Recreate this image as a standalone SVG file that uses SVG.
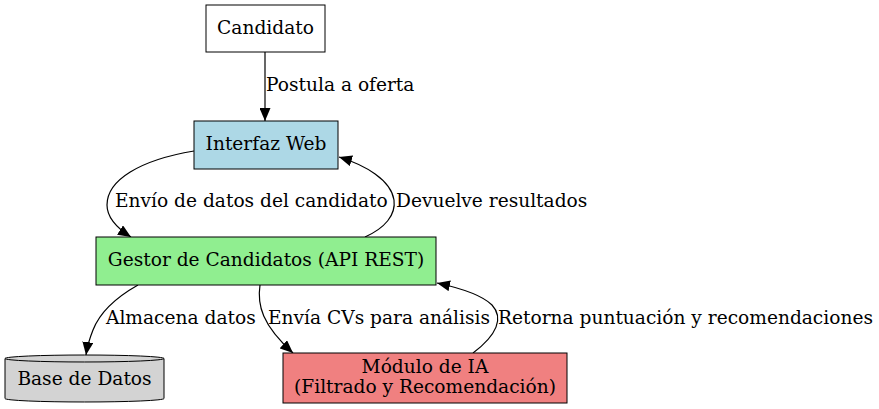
<svg xmlns="http://www.w3.org/2000/svg" width="879" height="409" viewBox="0 0 879 409">
<style>
text{font-family:"DejaVu Serif","Liberation Serif",serif;font-size:18.6px;fill:#000}
.n{stroke:#000;stroke-width:1}
.c{text-anchor:middle}
.e{fill:none;stroke:#000;stroke-width:1.2}
</style>
<defs>
<marker id="ah" markerWidth="14" markerHeight="11" refX="13" refY="5.5" orient="auto" markerUnits="userSpaceOnUse">
<path d="M0,0 L13,5.5 L0,11 z" fill="#000"/>
</marker>
</defs>
<rect width="879" height="409" fill="#fff"/>
<g id="edges">
<path class="e" d="M265,52 L265,121" marker-end="url(#ah)"/>
<path class="e" d="M194,151 C140,160 107,180 107,205 C107,220 120,230 131,237" marker-end="url(#ah)"/>
<path class="e" d="M365,237 C385,228 396,215 394,200 C391,180 365,165 339,157" marker-end="url(#ah)"/>
<path class="e" d="M138,285 C115,298 100,312 93,330 C89,340 87,348 86,355" marker-end="url(#ah)"/>
<path class="e" d="M260,285 C257,305 262,325 293,353" marker-end="url(#ah)"/>
<path class="e" d="M473,353 C497,335 504,318 492,305 C482,295 460,288 437,283" marker-end="url(#ah)"/>
<text x="266" y="91">Postula a oferta</text>
<text x="115" y="207">Envío de datos del candidato</text>
<text x="396" y="207">Devuelve resultados</text>
<text x="106" y="324">Almacena datos</text>
<text x="268" y="324">Envía CVs para análisis</text>
<text x="498" y="324">Retorna puntuación y recomendaciones</text>
</g>
<g id="candidato">
<rect class="n" x="206" y="5" width="119" height="47" fill="#fff"/>
<text class="c" x="265.5" y="34">Candidato</text>
</g>
<g id="interfaz">
<rect class="n" x="194" y="121" width="144" height="48" fill="#add8e6"/>
<text class="c" x="266" y="150">Interfaz Web</text>
</g>
<g id="gestor">
<rect class="n" x="96" y="237" width="340" height="48" fill="#90ee90"/>
<text class="c" x="266" y="266">Gestor de Candidatos (API REST)</text>
</g>
<g id="basedatos">
<path class="n" fill="#d3d3d3" d="M5,358.5 A79.5,3.5 0 0 1 164,358.5 L164,398.5 A79.5,3.5 0 0 1 5,398.5 Z"/>
<path class="n" fill="none" d="M5,358.5 A79.5,3.5 0 0 0 164,358.5"/>
<text class="c" x="84.5" y="385">Base de Datos</text>
</g>
<g id="modulo">
<rect class="n" x="283" y="353" width="284" height="50" fill="#f08080"/>
<text class="c" x="425" y="373">Módulo de IA</text>
<text class="c" x="425" y="393">(Filtrado y Recomendación)</text>
</g>
</svg>
